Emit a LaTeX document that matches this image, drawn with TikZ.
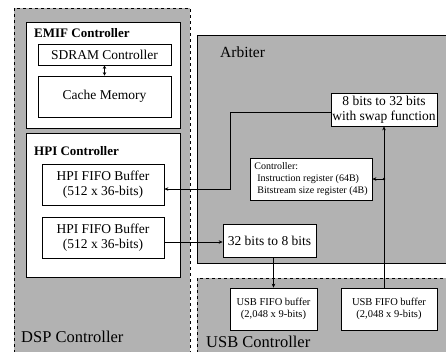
\documentclass[tikz,border=0pt]{standalone}
\usepackage{fontspec}
\setmainfont{Liberation Serif}
\usetikzlibrary{arrows.meta}
\definecolor{shade}{gray}{0.70}
\begin{document}
\begin{tikzpicture}[x=1pt,y=-1pt,
  dregion/.style={fill=shade, draw=black, dashed, line width=0.6pt},
  sregion/.style={fill=shade, draw=black, line width=0.7pt},
  box/.style={draw=black, fill=white, line width=0.7pt, inner sep=0pt, align=center},
  conn/.style={draw=black, line width=0.6pt},
  arr/.style={conn, -{Stealth[length=4pt,width=3.5pt]}},
  darr/.style={conn, {Stealth[length=3.5pt,width=3.5pt]}-{Stealth[length=3.5pt,width=3.5pt]}},
  bigfont/.style={font=\fontsize{13.5}{15.5}\selectfont},
  midfont/.style={font=\fontsize{13.5}{15.5}\selectfont},
  smallfont/.style={font=\fontsize{10.5}{12.5}\selectfont},
  tinyfont/.style={font=\fontsize{10}{12.3}\selectfont},
  title/.style={font=\fontsize{13}{14}\selectfont\bfseries, anchor=west, inner sep=0pt},
  region label/.style={font=\fontsize{16.5}{18}\selectfont, anchor=base west, inner sep=0pt}
]
\useasboundingbox (0,0) rectangle (446,351);
% regions
\fill[white] (0,0) rectangle (446,351);
\path[dregion] (14,8) rectangle (190,360);
\path[sregion] (197,35) rectangle (448,263);
\path[dregion] (197,278) rectangle (448,360);
% DSP side
\node[box, minimum width=154, minimum height=106] (emif) at (103,75) {};
\node[title] (emiflabel) at (34,33) {EMIF Controller};
\node[box, bigfont, minimum width=133, minimum height=21] (sdram) at (104.5,54.5) {SDRAM Controller};
\node[box, bigfont, minimum width=133, minimum height=41] (cache) at (104.5,96.5) {Cache Memory};
\node[box, minimum width=154, minimum height=144] (hpi) at (103,205) {};
\node[title] (hpilabel) at (34,151) {HPI Controller};
\node[box, bigfont, minimum width=122, minimum height=41] (hpi1) at (103,184.5) {HPI FIFO Buffer\\(512 x 36-bits)};
\node[box, bigfont, minimum width=122, minimum height=41] (hpi2) at (103,237.5) {HPI FIFO Buffer\\(512 x 36-bits)};
\node[region label] (dsplabel) at (21,342) {DSP Controller};
% Arbiter
\node[font=\fontsize{15.5}{17}\selectfont, anchor=west, inner sep=0pt] (arblabel) at (220,52) {Arbiter};
\node[box, midfont, minimum width=106, minimum height=33] (b832) at (384,109.5) {8 bits to 32 bits\\with swap function};
\node[box, tinyfont, align=left, minimum width=122, minimum height=42] (ctrl) at (311,179) {Controller:\\\hspace{3pt}Instruction register (64B)\\\hspace{3pt}Bitstream size register (4B)};
\node[box, midfont, minimum width=93, minimum height=33] (c328) at (269.5,240.5) {32 bits to 8 bits};
% USB
\node[box, smallfont, minimum width=87, minimum height=42] (usb1) at (273.5,309) {USB FIFO buffer\\(2,048 x 9-bits)};
\node[box, smallfont, minimum width=96, minimum height=42] (usb2) at (389,309) {USB FIFO buffer\\(2,048 x 9-bits)};
\node[region label] (usblabel) at (206,347.5) {USB Controller};
% connectors
\draw[darr] (sdram.south) -- (sdram.south |- cache.north);
\coordinate (k1) at (230,112);
\coordinate (k2) at (230,189);
\draw[arr] (b832.west |- k1) -- (k1) -- (k2) -- (hpi1.east |- k2);
\coordinate (k3) at (180,242);
\draw[arr] (hpi2.east |- k3) -- (c328.west |- k3);
\draw[arr] (usb1.north |- c328.south) -- (usb1.north);
\draw[arr] (b832.south |- usb2.north) -- (b832.south);
\coordinate (dot) at (b832.south |- ctrl.east);
\fill (dot) circle (1.4);
\draw[arr] (dot) -- (ctrl.east);
\end{tikzpicture}
\end{document}
